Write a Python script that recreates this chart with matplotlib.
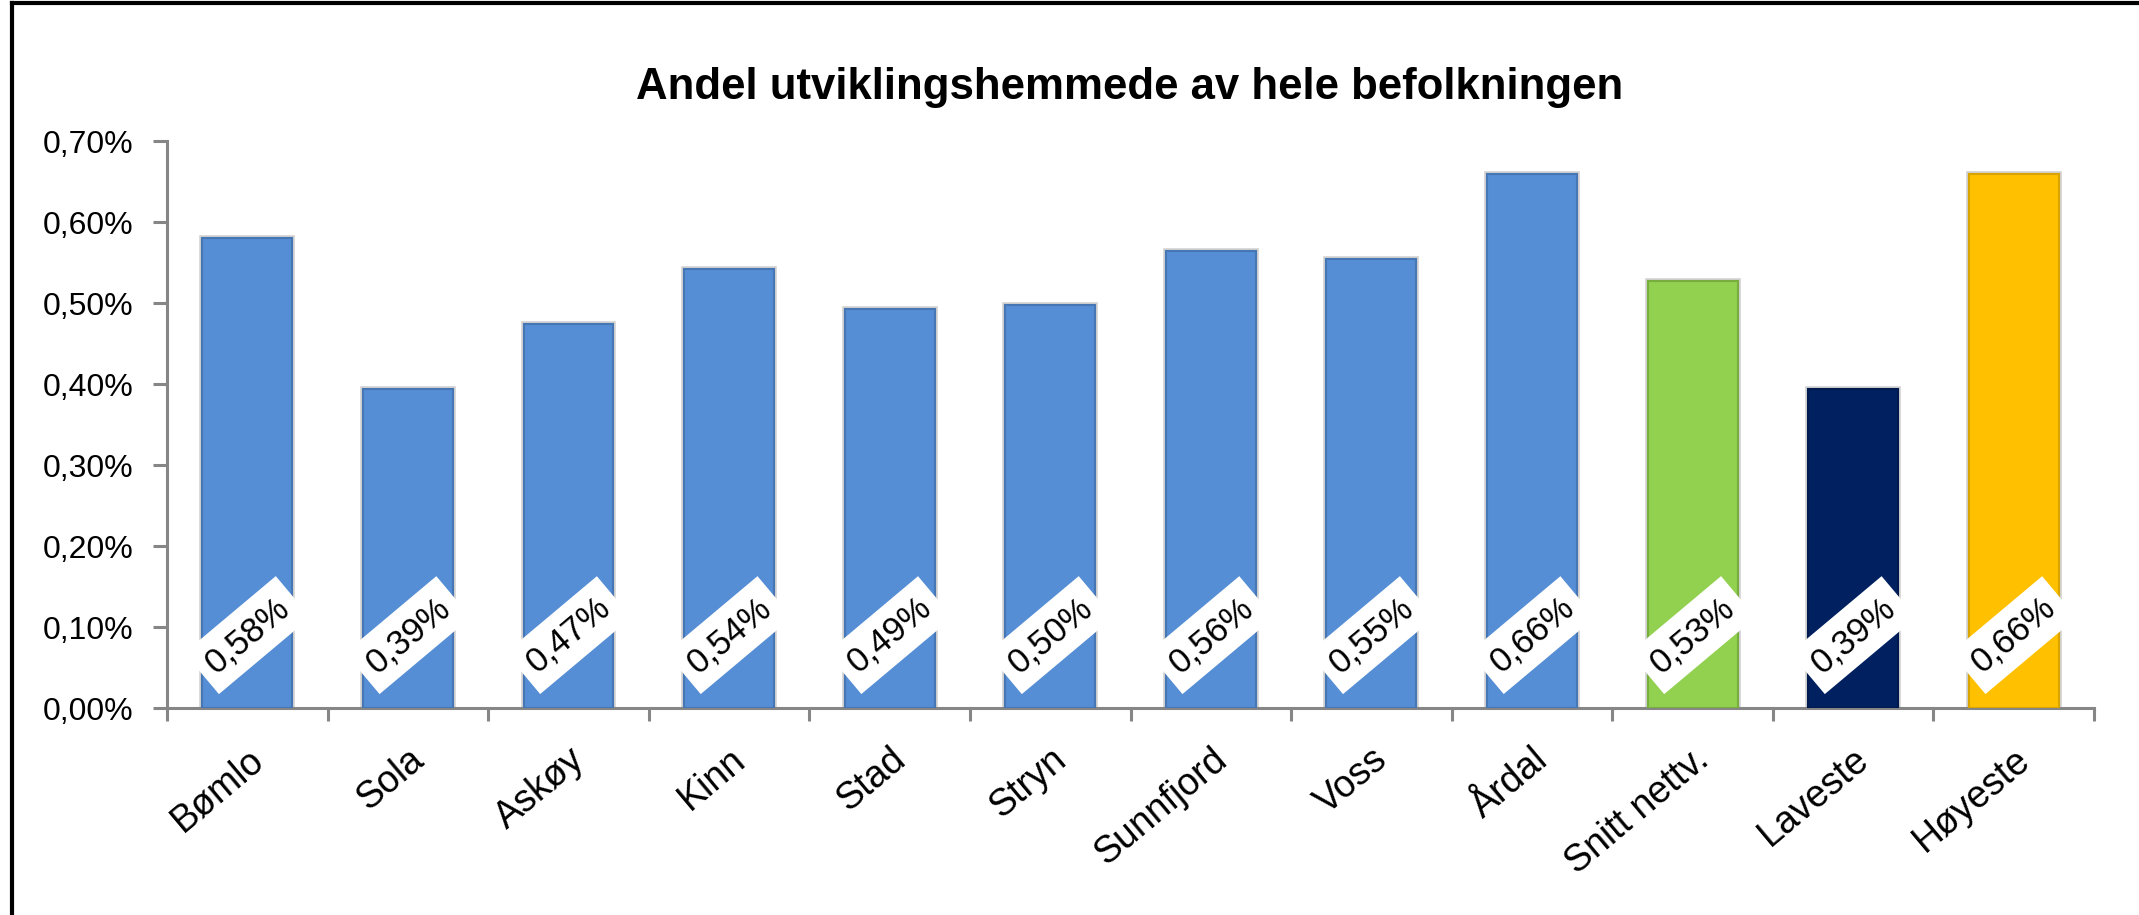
import matplotlib
matplotlib.use('Agg')
import matplotlib.pyplot as plt
from matplotlib.ticker import FuncFormatter, MultipleLocator, FixedLocator
from matplotlib.lines import Line2D

# data (percent of total population)
categories = ['Bømlo', 'Sola', 'Askøy', 'Kinn', 'Stad', 'Stryn', 'Sunnfjord',
              'Voss', 'Årdal', 'Snitt nettv.', 'Laveste', 'Høyeste']
values = [0.580, 0.394, 0.474, 0.542, 0.493, 0.497, 0.564, 0.554, 0.659,
          0.527, 0.394, 0.659]
bar_colors = ['#558ED5'] * 9 + ['#92D050', '#002060', '#FFC000']
edge_colors = ['#4776B4'] * 9 + ['#78AE3E', '#001A4D', '#D9A300']
title = 'Andel utviklingshemmede av hele befolkningen'

plt.rcParams['font.family'] = ['Liberation Sans', 'DejaVu Sans']


def pct(v):
    return f'{v:.2f}%'.replace('.', ',')


fig = plt.figure(figsize=(21.39, 9.15), dpi=100)
ax = fig.add_axes([0.0781, 0.2262, 0.9009, 0.6197])

x = list(range(len(categories)))

# light grey glow around each bar, then the bar itself
ax.bar(x, values, width=0.56, color='none', edgecolor='#d0d0d0',
       linewidth=4, zorder=2)
ax.bar(x, values, width=0.56, color=bar_colors, edgecolor=edge_colors,
       linewidth=1.5, zorder=3)

# value labels in white rotated boxes near the bottom of the bars
for xi, v in zip(x, values):
    ax.text(xi, 0.09, pct(v), rotation=40, rotation_mode='anchor',
            ha='center', va='center', fontsize=25, color='black',
            bbox=dict(boxstyle='square,pad=0.3', fc='white', ec='none'),
            zorder=4)

ax.set_xlim(-0.5, len(categories) - 0.5)
ax.set_ylim(0, 0.7)
ax.yaxis.set_major_locator(MultipleLocator(0.1))
ax.yaxis.set_major_formatter(FuncFormatter(lambda v, p: pct(v)))

ax.set_xticks(x)
ax.set_xticklabels(categories, fontsize=27)
ax.xaxis.set_minor_locator(FixedLocator([i - 0.5 for i in range(len(categories) + 1)]))
for lbl in ax.get_xticklabels():
    lbl.set_rotation(40)
    lbl.set_ha('right')
    lbl.set_va('top')
    lbl.set_rotation_mode('anchor')

axis_grey = '#868686'
for side in ['top', 'right']:
    ax.spines[side].set_visible(False)
for side in ['left', 'bottom']:
    ax.spines[side].set_color(axis_grey)
    ax.spines[side].set_linewidth(2.2)

ax.tick_params(axis='y', direction='out', length=10, width=2.2,
               color=axis_grey, labelsize=23, pad=14)
ax.tick_params(axis='x', which='major', length=0, pad=24)
ax.tick_params(axis='x', which='minor', direction='out', length=9.5,
               width=2.2, color=axis_grey)

fig.text(0.5283, 0.8918, title, ha='center', va='baseline', fontsize=31.5,
         fontweight='bold')

# frame of the original screenshot: only left and top edges visible
fig.add_artist(Line2D([0.0056, 0.0056], [0, 0.9965], transform=fig.transFigure,
                      color='black', linewidth=3))
fig.add_artist(Line2D([0.0056, 1.0], [0.9965, 0.9965], transform=fig.transFigure,
                      color='black', linewidth=3))

fig.savefig('out.png', dpi=100)
